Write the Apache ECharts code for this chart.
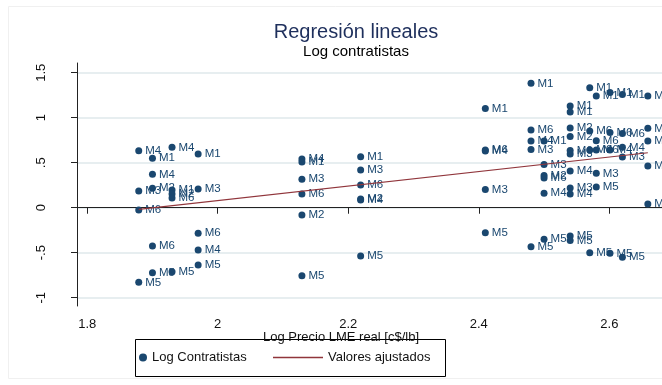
<!DOCTYPE html>
<html>
<head>
<meta charset="utf-8">
<script src="https://cdn.jsdelivr.net/npm/echarts@6/dist/echarts.min.js"></script>
<style>
  html, body { margin: 0; padding: 0; background: #fff; }
  #chart { width: 662px; height: 385px; }
</style>
</head>
<body>
<div id="chart"></div>
<script>
// puntos: precio (log) , contratistas (log), etiqueta
const ptX = [
  1.879, 1.879, 1.879, 1.879,
  1.900, 1.900, 1.900, 1.900, 1.900,
  1.930, 1.930, 1.930, 1.930, 1.930,
  1.970, 1.970, 1.970, 1.970, 1.970,
  2.129, 2.129, 2.129, 2.129, 2.129, 2.129,
  2.219, 2.219, 2.219, 2.219, 2.219, 2.219,
  2.410, 2.410, 2.410, 2.410, 2.410,
  2.480, 2.480, 2.480, 2.480, 2.480,
  2.500, 2.500, 2.500, 2.500, 2.500, 2.500,
  2.540, 2.540, 2.540, 2.540, 2.540, 2.540, 2.540, 2.540, 2.540, 2.540, 2.540,
  2.570, 2.570, 2.570, 2.570,
  2.580, 2.580, 2.580, 2.580, 2.580,
  2.601, 2.601, 2.601, 2.601,
  2.620, 2.620, 2.620, 2.620, 2.620,
  2.659, 2.659, 2.659, 2.659, 2.659
];
const ptY = [
  0.633, 0.186, -0.026, -0.829,
  0.549, 0.371, 0.216, -0.426, -0.722,
  0.671, 0.197, 0.152, 0.108, -0.711,
  0.597, 0.208, -0.284, -0.470, -0.637,
  0.541, 0.508, 0.316, 0.152, -0.081, -0.756,
  0.567, 0.419, 0.252, 0.097, 0.086, -0.537,
  1.102, 0.641, 0.630, 0.202, -0.278,
  1.382, 0.863, 0.741, 0.647, -0.433,
  0.741, 0.480, 0.358, 0.330, 0.160, -0.351,
  1.130, 1.063, 0.886, 0.791, 0.636, 0.597, 0.408, 0.219, 0.152, -0.314, -0.364,
  1.333, 0.852, 0.641, -0.500,
  1.241, 0.744, 0.641, 0.382, 0.230,
  1.280, 0.836, 0.641, -0.507,
  1.258, 0.824, 0.671, 0.563, -0.551,
  1.241, 0.882, 0.741, 0.463, 0.041
];
const ptLab = [
  'M4', 'M3', 'M6', 'M5',
  'M1', 'M4', 'M2', 'M6', 'M5',
  'M4', 'M1', 'M2', 'M6', 'M5',
  'M1', 'M3', 'M6', 'M4', 'M5',
  'M4', 'M1', 'M3', 'M6', 'M2', 'M5',
  'M1', 'M3', 'M6', 'M2', 'M4', 'M5',
  'M1', 'M6', 'M4', 'M3', 'M5',
  'M1', 'M6', 'M4', 'M3', 'M5',
  'M1', 'M3', 'M2', 'M6', 'M4', 'M5',
  'M1', 'M1', 'M2', 'M2', 'M6', 'M3', 'M4', 'M3', 'M4', 'M5', 'M5',
  'M1', 'M6', 'M6', 'M5',
  'M1', 'M6', 'M6', 'M3', 'M5',
  'M1', 'M6', 'M4', 'M5',
  'M1', 'M6', 'M4', 'M3', 'M5',
  'M1', 'M6', 'M2', 'M3', 'M4'
];

// valores ajustados (recta de regresión)
const fitX = [1.879, 2.659];
const fitY = [-0.018, 0.611];

// ejes
const xTicks = [1.8, 2, 2.2, 2.4, 2.6];
const xTickLabels = ['1.8', '2', '2.2', '2.4', '2.6'];
const yTicks = [-1, -0.5, 0, 0.5, 1, 1.5];
const yTickLabels = ['-1', '-.5', '0', '.5', '1', '1.5'];

const navy = '#1a476f';
const maroon = '#90353b';
const font = "'Liberation Sans', Arial, sans-serif";

let chart = echarts.init(document.getElementById('chart'), null, {renderer: 'canvas'});

let option = {
    animation: false,
    backgroundColor: '#fff',
    textStyle: { fontFamily: font },
    // el gráfico original está recortado a la derecha
    grid: {
        left: 77,
        right: 0,
        top: 63,
        bottom: 79
    },
    xAxis: {
        type: 'value',
        min: 1.7844,
        max: 2.6807,
        axisLine: { show: true, lineStyle: { color: '#222', width: 1 } },
        axisTick: { show: true, customValues: xTicks, length: 6, lineStyle: { color: '#222' } },
        axisLabel: {
            customValues: xTicks,
            margin: 12,
            fontSize: 13,
            color: '#111',
            formatter: v => xTickLabels[xTicks.indexOf(Math.round(v * 10) / 10)]
        },
        splitLine: { show: false }
    },
    yAxis: {
        type: 'value',
        min: -1.092,
        max: 1.608,
        axisLine: { show: true, lineStyle: { color: '#222', width: 1 } },
        axisTick: { show: true, customValues: yTicks, length: 6, lineStyle: { color: '#222' } },
        axisLabel: {
            customValues: yTicks,
            rotate: 90,
            margin: 29,
            fontSize: 13,
            color: '#111',
            formatter: v => yTickLabels[yTicks.indexOf(Math.round(v * 10) / 10)]
        },
        splitLine: { show: false }
    },
    legend: [
        {
            left: 139,
            top: 351,
            padding: 0,
            itemWidth: 8,
            itemHeight: 8,
            textStyle: { fontSize: 13, color: '#111', fontFamily: font },
            data: [{ name: 'Log Contratistas', icon: 'circle' }]
        },
        {
            left: 273,
            top: 351,
            padding: 0,
            itemWidth: 50,
            itemHeight: 1.5,
            textStyle: { fontSize: 13, color: '#111', fontFamily: font },
            data: [{ name: 'Valores ajustados', icon: 'rect' }]
        }
    ],
    graphic: [
        {
            type: 'rect',
            shape: { x: 8.5, y: 6.5, width: 700, height: 372 },
            style: { fill: 'none', stroke: '#f0f0f0', lineWidth: 1 },
            silent: true, z: -10
        },
        {
            type: 'rect',
            shape: { x: 135.5, y: 339.5, width: 310, height: 37 },
            style: { fill: 'none', stroke: '#000', lineWidth: 1 },
            silent: true
        },
        {
            type: 'text', x: 356, y: 32,
            style: { text: 'Regresión lineales', align: 'center', verticalAlign: 'middle',
                     font: '20px ' + font, fill: '#1e2f5c' }
        },
        {
            type: 'text', x: 356, y: 51.5,
            style: { text: 'Log contratistas', align: 'center', verticalAlign: 'middle',
                     font: '15px ' + font, fill: '#000' }
        },
        {
            type: 'text', x: 341, y: 337,
            z: 10,
            style: { text: 'Log Precio LME real [c$/lb]', align: 'center', verticalAlign: 'middle',
                     font: '13px ' + font, fill: '#111' }
        }
    ],
    series: [
        {
            name: 'Log Contratistas',
            type: 'scatter',
            z: 3,
            symbol: 'circle',
            symbolSize: 7,
            itemStyle: { color: navy, opacity: 1 },
            label: {
                show: true,
                position: 'right',
                distance: 3,
                fontSize: 11.5,
                color: navy,
                formatter: p => ptLab[p.dataIndex]
            },
            data: ptX.map((x, i) => [x, ptY[i]]),
            // líneas de la cuadrícula horizontal, detrás de los puntos
            markLine: {
                silent: true,
                z: 0,
                symbol: 'none',
                label: { show: false },
                lineStyle: { color: '#dfe8eb', type: 'solid', width: 1.5 },
                data: yTicks.map(v => ({ yAxis: v }))
            }
        },
        {
            name: 'Valores ajustados',
            type: 'line',
            z: 4,
            symbol: 'none',
            lineStyle: { color: maroon, width: 1.2 },
            itemStyle: { color: maroon },
            data: fitX.map((x, i) => [x, fitY[i]])
        }
    ]
};
chart.setOption(option);
</script>
</body>
</html>
